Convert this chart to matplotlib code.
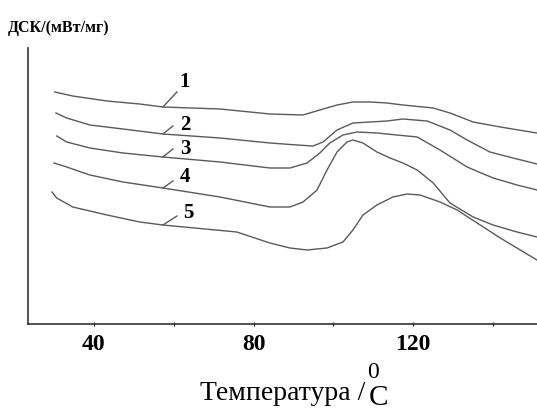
import matplotlib
matplotlib.use("Agg")
import matplotlib.pyplot as plt

# DSC curves (temperature in C, signal in arbitrary units)
t1 = [30.2, 34.7, 43.3, 51.5, 57.3, 71.6, 84.1, 92.4, 96.6, 100.9, 104.9, 109.2, 113.4, 117.4,
      125.0, 129.2, 135.0, 141.8, 151.0]
y1 = [232, 228, 223, 220, 217, 215, 210, 209, 214, 219, 222, 222, 221, 219, 216, 211, 202, 197, 191]

t2 = [30.5, 33.2, 39.0, 47.3, 57.3, 71.6, 84.1, 90.9, 94.9, 97.4, 100.9, 104.9, 109.2, 113.4,
      117.4, 123.5, 129.2, 133.5, 139.2, 145.0, 151.0]
y2 = [211, 206, 199, 195, 190, 186, 181, 179, 178, 182, 194, 201, 202, 203, 205, 203, 194, 184,
      172, 166, 160]

t3 = [30.7, 33.2, 39.0, 47.3, 57.3, 71.6, 84.1, 89.1, 93.4, 96.6, 99.1, 102.4, 105.9, 110.9,
      115.9, 121.0, 126.7, 133.5, 140.0, 146.0, 151.0]
y3 = [188, 182, 176, 171, 167, 162, 156, 156, 161, 171, 181, 189, 192, 191, 189, 187, 174, 157,
      146, 139, 134]

t4 = [30.0, 33.2, 39.0, 47.3, 57.3, 71.6, 84.1, 89.1, 92.4, 95.9, 98.4, 100.9, 103.4, 104.9,
      107.4, 110.9, 114.2, 117.4, 121.0, 125.0, 129.2, 135.0, 140.0, 146.0, 151.0]
y4 = [161, 157, 149, 142, 136, 127, 117, 117, 122, 134, 154, 172, 182, 184, 181, 172, 166, 161,
      154, 141, 121, 107, 99, 92, 87]

t5 = [29.5, 30.7, 34.7, 43.3, 51.5, 57.3, 75.8, 84.1, 89.1, 93.4, 98.4, 102.4, 104.9, 107.4,
      110.9, 114.9, 118.4, 121.7, 126.7, 131.0, 136.0, 141.8, 146.8, 151.0]
y5 = [132, 126, 117, 109, 102, 99, 92, 81, 76, 74, 76, 82, 94, 109, 119, 127, 130, 129, 122, 114,
      101, 86, 74, 64]

curves = [(t1, y1), (t2, y2), (t3, y3), (t4, y4), (t5, y5)]
curve_names = ['1', '2', '3', '4', '5']
# label text position and leader line (from curve to label)
label_pos = [(62.8, 242), (62.8, 199), (62.8, 175), (62.8, 147), (63.6, 111)]
leader_start = [(57.3, 217), (57.3, 190), (57.3, 167), (57.3, 136), (57.3, 99)]
leader_end = [(60.8, 232), (59.8, 198), (59.8, 175), (59.8, 143), (60.8, 108)]

major_ticks = [40, 80, 120]
minor_ticks = [60, 100, 140]

plt.rcParams['font.family'] = ['Liberation Serif', 'DejaVu Serif']

fig = plt.figure(figsize=(5.37, 4.12), dpi=100)
ax = fig.add_axes([28 / 537, 88 / 412, 1 - 28 / 537, 276 / 412])

line_color = '#5a5a5a'
for (t, y) in curves:
    ax.plot(t, y, color=line_color, lw=1.0, solid_joinstyle='round')

for name, p, s, e in zip(curve_names, label_pos, leader_start, leader_end):
    ax.plot([s[0], e[0]], [s[1], e[1]], color=line_color, lw=1.0)
    ax.text(p[0], p[1], name, fontsize=15, fontweight='bold', ha='center', va='center')

ax.set_xlim(23.5, 151)
ax.set_ylim(0, 276)
ax.spines['top'].set_visible(False)
ax.spines['right'].set_visible(False)
for sp in ['left', 'bottom']:
    ax.spines[sp].set_color('#333333')
    ax.spines[sp].set_linewidth(1.2)

ax.set_xticks(major_ticks)
ax.set_xticklabels([str(v) for v in major_ticks], fontsize=17, fontweight='bold')
ax.set_xticks(minor_ticks, minor=True)
ax.tick_params(axis='x', which='both', direction='inout', length=3, width=1, color='#333333', pad=6)
ax.set_yticks([])

fig.text(8 / 537, 1 - 28 / 412, 'ДСК/(мВт/мг)', fontsize=11.5, fontweight='bold', va='center', ha='left')

# x axis label with superscript zero
fig.text(200 / 537, 1 - 400 / 412, 'Температура /', fontsize=20, va='baseline', ha='left')
fig.text(367 / 537, 1 - 378 / 412, '0', fontsize=17, va='baseline', ha='left')
fig.text(369 / 537, 1 - 405 / 412, 'C', fontsize=21, va='baseline', ha='left')

fig.savefig('out.png', dpi=100)
